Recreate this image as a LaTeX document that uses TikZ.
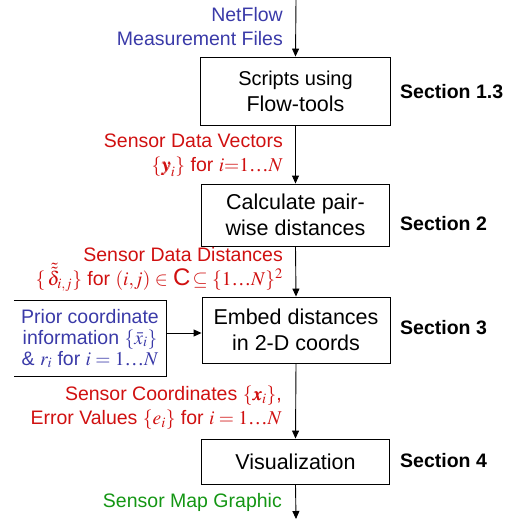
\documentclass[tikz,border=0pt]{standalone}
\usepackage{amsmath}
\usepackage{mathptmx}
\usepackage{bm}
\usepackage[no-math]{fontspec}
\setmainfont{Liberation Sans}
\newfontfamily\tms{Liberation Serif}
\newcommand{\ellip}{\text{\tms …}}
\usetikzlibrary{arrows.meta}

\definecolor{inblue}{RGB}{58,58,168}
\definecolor{datared}{RGB}{208,16,16}
\definecolor{outgreen}{RGB}{20,150,20}

\tikzset{
  stage/.style={draw=black, line width=0.9pt, inner sep=0pt, align=center,
    font=\fontsize{21.5}{26}\selectfont},
  flowlabel/.style={anchor=east, inner sep=0pt, align=right,
    font=\fontsize{19.5}{24}\selectfont},
  seclabel/.style={anchor=west, inner sep=0pt, font=\bfseries\fontsize{19.5}{24}\selectfont},
  flow/.style={line width=0.9pt, -{Triangle[length=8pt,width=7pt]}},
}

\begin{document}
\begin{tikzpicture}[x=1pt, y=-1pt]
\useasboundingbox (0,0) rectangle (513,519);

% processing stages
\node[stage, minimum width=190pt, minimum height=68pt] (scripts) at (295.5,91)
  {{\fontsize{20}{25}\selectfont Scripts using}\\Flow-tools};
\node[stage, minimum width=188pt, minimum height=62pt] (pairwise) at (295.5,215)
  {Calculate pair-\\wise distances};
\node[stage, minimum width=188pt, minimum height=66pt] (embed) at (296,330)
  {Embed distances\\in 2-D coords};
\node[stage, minimum width=188pt, minimum height=45pt] (vis) at (295.5,461.5)
  {Visualization};

% prior information box (open on its left side)
\node[inner sep=0pt, minimum width=152pt, minimum height=75pt, align=center,
      text=inblue, font=\fontsize{19.5}{21}\selectfont] (prior) at (90,338.5)
  {Prior coordinate\\information $\{\bar{x}_i\}$\\\& $r_i$ for $i=1\ellip N$};
\draw[line width=0.9pt] (prior.north west) -- (prior.north east)
  -- (prior.south east) -- (prior.south west);

% section references
\node[seclabel] (s1) at (400,92) {Section 1.3};
\node[seclabel] (s2) at (400,224) {Section 2};
\node[seclabel] (s3) at (400,328) {Section 3};
\node[seclabel] (s4) at (400,461) {Section 4};

% data flowing between stages
\node[flowlabel, text=inblue] (netflow) at (283,27)
  {NetFlow\\Measurement Files};
\node[flowlabel, text=datared] (vectors) at (283,155)
  {Sensor Data Vectors\\$\{\bm{y}_i\}$ for $i{=}1\ellip N$};
\node[flowlabel, text=datared] (dists) at (283,269)
  {Sensor Data Distances\\$\{\,\tilde{\tilde{\delta}}_{i,j}\}$ for $(i{,}j)\in$
   {\fontsize{24}{24}\selectfont C}$\,\subseteq\{1\ellip N\}^2$};
\node[flowlabel, text=datared] (coords) at (282,408)
  {Sensor Coordinates $\{\bm{x}_i\}$,\\Error Values $\{e_i\}$ for $i=1\ellip N$};
\node[flowlabel, text=outgreen] (mapout) at (282,502)
  {Sensor Map Graphic};

% connectors
\coordinate (src) at (296,0);
\coordinate (sink) at (296,519);
\draw[flow] (src) -- (scripts.north);
\draw[flow] (scripts.south) -- (pairwise.north);
\draw[flow] (pairwise.south) -- (embed.north);
\draw[flow] (embed.south) -- (vis.north);
\draw[flow] (vis.south) -- (sink);
\draw[flow] (prior.east |- 0,333) -- (embed.west |- 0,333);
\end{tikzpicture}
\end{document}
